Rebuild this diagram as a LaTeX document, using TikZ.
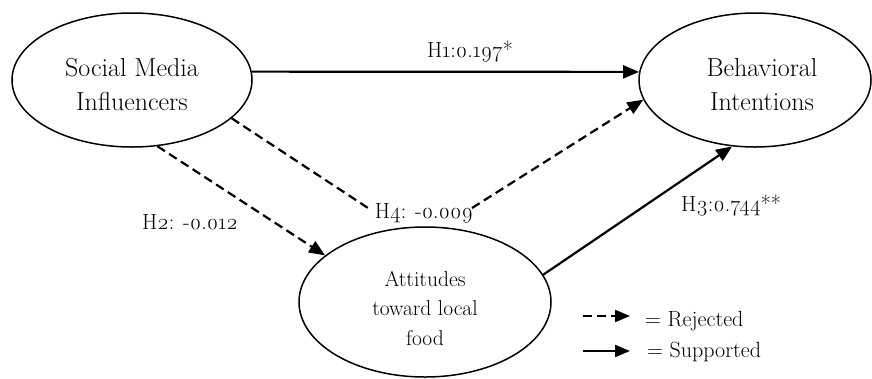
\documentclass[tikz,border=0pt]{standalone}
\usepackage{fontspec}
\setmainfont{Latin Modern Roman}[Numbers=OldStyle]
\usetikzlibrary{shapes.geometric,arrows.meta}
\begin{document}
\begin{tikzpicture}[x=1pt,y=-1pt,
  construct/.style={draw,line width=1.5pt,ellipse,inner sep=0pt},
  title/.style={font=\fontsize{26}{34}\selectfont,align=center,inner sep=0pt},
  small/.style={font=\fontsize{21.5}{29.5}\selectfont,align=center,inner sep=0pt},
  lbl/.style={font=\fontsize{22}{26}\selectfont,inner sep=1pt},
  path/.style={line width=2.2pt,-{Triangle[length=16pt,width=13pt]}},
  rejected/.style={path,dash pattern=on 9pt off 5pt},
  plaindash/.style={line width=2.2pt,dash pattern=on 9pt off 5pt}]
\useasboundingbox (0,0) rectangle (872,378);
\node[construct,minimum width=240pt,minimum height=134pt] (SMI) at (132,80) {};
\node[title] (SMIt) at (132,85) {Social Media\\Influencers};
\node[construct,minimum width=232pt,minimum height=134pt] (BI) at (755,80) {};
\node[title] (BIt) at (762,85) {Behavioral\\Intentions};
\node[construct,minimum width=252pt,minimum height=150pt] (ATT) at (425,302) {};
\node[small] (ATTt) at (425,308) {Attitudes\\toward local\\food};
% H1
\draw[path] (SMI.4) -- (BI.176);
\node[lbl] (h1) at (470,52) {H1:0.197*};
% H2
\draw[rejected] (SMI.-69) -- (ATT.155);
\node[lbl] (h2) at (190,222) {H2: -0.012};
% H4
\node[lbl] (h4) at (424,213) {H4: -0.009};
\coordinate (h4a) at (368,208);
\coordinate (h4b) at (472,208);
\draw[plaindash] (SMI.-21) -- (h4a);
\draw[rejected] (h4b) -- (BI.190);
% H3
\draw[path] (ATT.13) -- (BI.251);
\node[lbl] (h3) at (731,206) {H3:0.744**};
% legend
\coordinate (r1) at (583,316);
\coordinate (r2) at (630,316);
\coordinate (s1) at (583,351);
\coordinate (s2) at (630,351);
\draw[rejected,-{Triangle[length=15pt,width=12pt]}] (r1) -- (r2);
\draw[path,-{Triangle[length=15pt,width=12pt]}] (s1) -- (s2);
\node[lbl,anchor=west] (lr) at (644,321) {= Rejected};
\node[lbl,anchor=west] (ls) at (646,352) {= Supported};
\end{tikzpicture}
\end{document}
